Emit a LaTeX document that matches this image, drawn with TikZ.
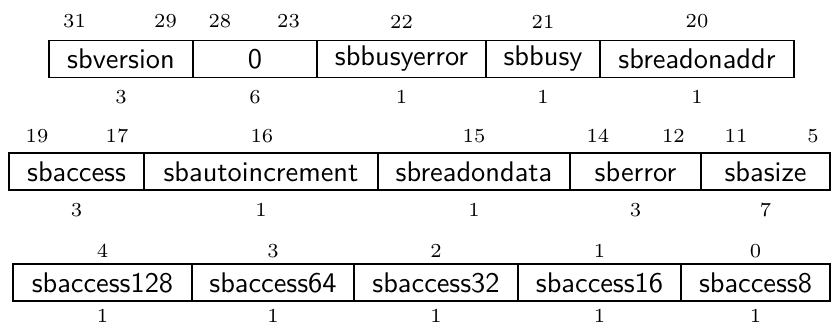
\documentclass[tikz,border=0pt]{standalone}
\usepackage{tikz}
\tikzstyle{field} = [draw, minimum height=13pt, inner sep=0pt, font=\sffamily]
\tikzstyle{bitnum} = [font=\scriptsize]
\tikzstyle{bitlen} = [font=\scriptsize]

\begin{document}
\begin{tikzpicture}
  \useasboundingbox (0,0) rectangle (10.282,-4.083);

  % first row
  \node (a) at (1.497,-0.730) [field, minimum width=1.782cm] {sbversion};
  \node (b) at (3.155,-0.730) [field, minimum width=1.534cm] {0};
  \node (c) at (4.968,-0.730) [field, minimum width=2.091cm] {sbbusyerror};
  \node (d) at (6.719,-0.730) [field, minimum width=1.411cm] {sbbusy};
  \node (e) at (8.624,-0.730) [field, minimum width=2.400cm] {sbreadonaddr};

  \node (a-hi) at (0.922,-0.266) [bitnum] {31};
  \node (a-lo) at (2.048,-0.266) [bitnum] {29};
  \node (b-hi) at (2.722,-0.266) [bitnum] {28};
  \node (b-lo) at (3.570,-0.266) [bitnum] {23};
  \node (c-hi) at (4.968,-0.266) [bitnum] {22};
  \node (d-hi) at (6.719,-0.266) [bitnum] {21};
  \node (e-hi) at (8.624,-0.266) [bitnum] {20};

  \node (a-w) at (1.497,-1.200) [bitlen] {3};
  \node (b-w) at (3.155,-1.200) [bitlen] {6};
  \node (c-w) at (4.968,-1.200) [bitlen] {1};
  \node (d-w) at (6.719,-1.200) [bitlen] {1};
  \node (e-w) at (8.624,-1.200) [bitlen] {1};

  % second row
  \node (f) at (0.947,-2.122) [field, minimum width=1.670cm] {sbaccess};
  \node (g) at (3.229,-2.122) [field, minimum width=2.895cm] {sbautoincrement};
  \node (h) at (5.865,-2.122) [field, minimum width=2.376cm] {sbreadondata};
  \node (i) at (7.863,-2.122) [field, minimum width=1.621cm] {sberror};
  \node (j) at (9.472,-2.122) [field, minimum width=1.596cm] {sbasize};

  \node (f-hi) at (0.458,-1.683) [bitnum] {19};
  \node (f-lo) at (1.448,-1.683) [bitnum] {17};
  \node (g-hi) at (3.240,-1.683) [bitnum] {16};
  \node (h-hi) at (5.865,-1.683) [bitnum] {15};
  \node (i-hi) at (7.399,-1.683) [bitnum] {14};
  \node (i-lo) at (8.333,-1.683) [bitnum] {12};
  \node (j-hi) at (9.107,-1.683) [bitnum] {11};
  \node (j-lo) at (10.059,-1.683) [bitnum] {5};

  \node (f-w) at (0.947,-2.598) [bitlen] {3};
  \node (g-w) at (3.229,-2.598) [bitlen] {1};
  \node (h-w) at (5.865,-2.598) [bitlen] {1};
  \node (i-w) at (7.863,-2.598) [bitlen] {3};
  \node (j-w) at (9.472,-2.598) [bitlen] {7};

  % third row
  \node (k) at (1.268,-3.495) [field, minimum width=2.215cm] {sbaccess128};
  \node (l) at (3.378,-3.495) [field, minimum width=2.004cm] {sbaccess64};
  \node (m) at (5.395,-3.495) [field, minimum width=2.029cm] {sbaccess32};
  \node (n) at (7.418,-3.495) [field, minimum width=2.017cm] {sbaccess16};
  \node (o) at (9.348,-3.495) [field, minimum width=1.844cm] {sbaccess8};

  \node (k-hi) at (1.268,-3.106) [bitnum] {4};
  \node (l-hi) at (3.378,-3.106) [bitnum] {3};
  \node (m-hi) at (5.395,-3.106) [bitnum] {2};
  \node (n-hi) at (7.418,-3.106) [bitnum] {1};
  \node (o-hi) at (9.348,-3.106) [bitnum] {0};

  \node (k-w) at (1.268,-3.910) [bitlen] {1};
  \node (l-w) at (3.378,-3.910) [bitlen] {1};
  \node (m-w) at (5.395,-3.910) [bitlen] {1};
  \node (n-w) at (7.418,-3.910) [bitlen] {1};
  \node (o-w) at (9.348,-3.910) [bitlen] {1};
\end{tikzpicture}
\end{document}
